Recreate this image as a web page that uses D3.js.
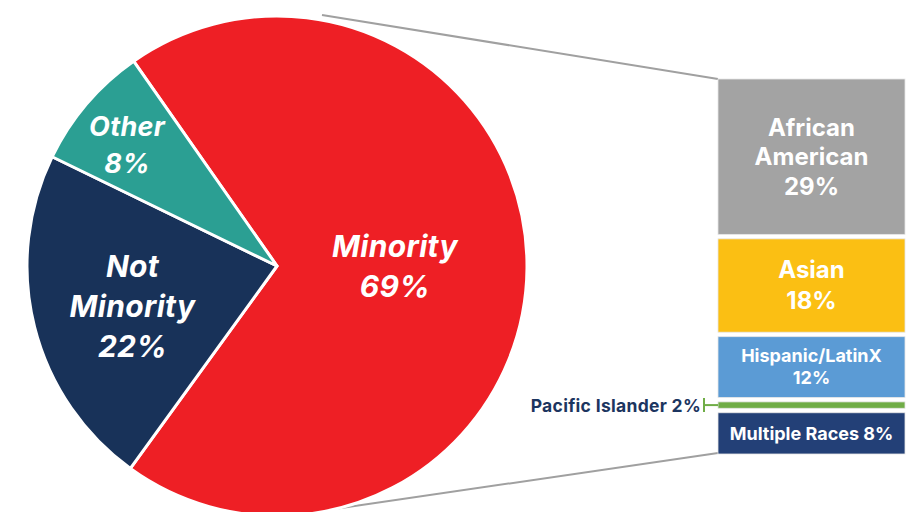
<!DOCTYPE html>
<html>
<head>
<meta charset="utf-8">
<script src="https://cdn.jsdelivr.net/npm/d3@7"></script>
<style>
  html, body { margin: 0; padding: 0; background: #fff; }
  svg { display: block; font-family: Inter, "Open Sans", sans-serif; }
</style>
</head>
<body>
<svg id="chart" width="907" height="512"></svg>
<script>
// ---- data ----
const pieLabels = ["Minority", "Not Minority", "Other"];
const pieValues = [69, 22, 8];
const barLabels = ["African American", "Asian", "Hispanic/LatinX", "Pacific Islander", "Multiple Races"];
const barValues = [29, 18, 12, 2, 8];

// ---- styles / layout ----
const pieColors = ["#ee1f25", "#183259", "#2b9f93"];
const barColors = ["#a3a3a3", "#fbbf13", "#5b9bd5", "#70ad47", "#234077"];
const pieLabelRadius = [118, 149, 197];
const pieLabelShift = [0, 5, 7];
const pieLabelSize = [30, 30, 27];
const pieLineGap = [40, 40, 37];
const pieLabelSplit = [false, true, false];
const barLabelMode = ["split", "twoLine", "twoLine", "outside", "oneLine"];
const barLabelSize = [24, 24, 18, 17.5, 18];
const barLineGap = [29.5, 31, 22, 0, 0];

const svg = d3.select("#chart");
const cx = 277, cy = 266, R = 250;

// connector lines (behind pie)
const barX0 = 718, barX1 = 905;
const total = d3.sum(barValues);
const yBar = d3.scaleLinear().domain([0, total]).range([79, 454]);
const gap = 4.5;

svg.append("line").attr("x1", 322).attr("y1", 15).attr("x2", barX0).attr("y2", yBar(0))
  .attr("stroke", "#a0a0a0").attr("stroke-width", 2);
svg.append("line").attr("x1", 300).attr("y1", 514).attr("x2", barX0).attr("y2", yBar(total) - 1)
  .attr("stroke", "#a0a0a0").attr("stroke-width", 2);

// pie
const start = -35 * Math.PI / 180;
const pie = d3.pie().sort(null).startAngle(start).endAngle(start + 2 * Math.PI);
const arcs = pie(pieValues);
const arc = d3.arc().innerRadius(0).outerRadius(R);
const g = svg.append("g").attr("transform", `translate(${cx},${cy})`);
g.selectAll("path").data(arcs).join("path")
  .attr("d", arc)
  .attr("fill", (d, i) => pieColors[i])
  .attr("stroke", "#fff").attr("stroke-width", 3).attr("stroke-linejoin", "round");

arcs.forEach((d, i) => {
  const a = (d.startAngle + d.endAngle) / 2;
  const r = pieLabelRadius[i];
  const x = r * Math.sin(a), y = -r * Math.cos(a) + pieLabelShift[i];
  const lines = pieLabelSplit[i] ? [...pieLabels[i].split(" "), pieValues[i] + "%"] : [pieLabels[i], pieValues[i] + "%"];
  const fs = pieLabelSize[i], lg = pieLineGap[i];
  const capH = fs * 0.68;
  const blockH = (lines.length - 1) * lg + capH;
  const firstBase = y - blockH / 2 + capH;
  const t = g.append("text").attr("text-anchor", "middle")
    .attr("fill", "#fff").attr("font-size", fs).attr("font-weight", 700).attr("font-style", "italic")
    .attr("letter-spacing", 0.3);
  lines.forEach((ln, k) => {
    t.append("tspan").attr("x", x).attr("y", firstBase + k * lg).text(ln);
  });
});

// stacked bar
let cum = 0;
barValues.forEach((v, i) => {
  const y0 = yBar(cum) + (i > 0 ? gap / 2 : 0);
  const y1 = yBar(cum + v) - (i < barValues.length - 1 ? gap / 2 : 0);
  cum += v;
  svg.append("rect").attr("x", barX0).attr("y", y0).attr("width", barX1 - barX0).attr("height", y1 - y0)
    .attr("fill", barColors[i]).attr("stroke", "#e6e6e6").attr("stroke-width", 0.8);
  const mode = barLabelMode[i];
  const fs = barLabelSize[i];
  const xc = (barX0 + barX1) / 2, yc = (y0 + y1) / 2;
  const capH = fs * 0.7;
  if (mode === "outside") {
    const ym = yc;
    svg.append("line").attr("x1", 704).attr("x2", 704).attr("y1", ym - 7).attr("y2", ym + 7)
      .attr("stroke", barColors[i]).attr("stroke-width", 2);
    svg.append("line").attr("x1", 704).attr("x2", barX0).attr("y1", ym).attr("y2", ym)
      .attr("stroke", barColors[i]).attr("stroke-width", 2);
    svg.append("text").attr("x", 701).attr("y", ym + capH / 2 + 0.5).attr("text-anchor", "end")
      .attr("fill", "#1c3560").attr("font-size", fs).attr("font-weight", 700)
      .attr("letter-spacing", 0.3)
      .text(`${barLabels[i]} ${v}%`);
    return;
  }
  let lines;
  if (mode === "split") lines = [...barLabels[i].split(" "), v + "%"];
  else if (mode === "twoLine") lines = [barLabels[i], v + "%"];
  else lines = [`${barLabels[i]} ${v}%`];
  const lg = barLineGap[i];
  const blockH = (lines.length - 1) * lg + capH;
  const firstBase = yc - blockH / 2 + capH;
  const t = svg.append("text").attr("text-anchor", "middle").attr("fill", "#fff")
    .attr("font-size", fs).attr("font-weight", 700);
  lines.forEach((ln, k) => t.append("tspan").attr("x", xc).attr("y", firstBase + k * lg).text(ln));
});
</script>
</body>
</html>
